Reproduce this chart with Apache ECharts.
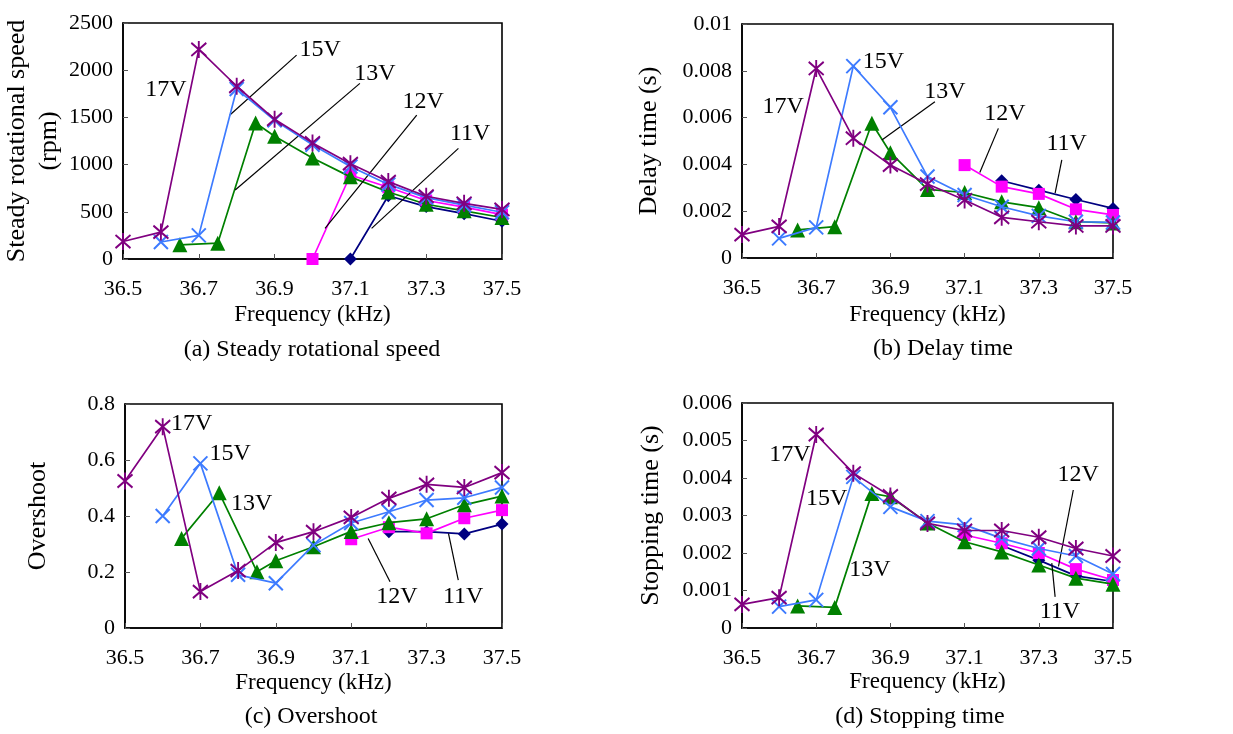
<!DOCTYPE html>
<html>
<head>
<meta charset="utf-8">
<script src="https://cdn.jsdelivr.net/npm/echarts@6/dist/echarts.min.js"></script>
<style>
  html, body { margin: 0; padding: 0; background: #fff; }
  #main { width: 1233px; height: 734px; }
</style>
</head>
<body>
<div id="main"></div>
<script>
// frequencies (kHz)
const f17 = [36.5, 36.6, 36.7, 36.8, 36.9, 37.0, 37.1, 37.2, 37.3, 37.4, 37.5];
const f15 = [36.6, 36.7, 36.8, 36.9, 37.0, 37.1, 37.2, 37.3, 37.4, 37.5];
const f13 = [36.65, 36.75, 36.85, 36.9, 37.0, 37.1, 37.2, 37.3, 37.4, 37.5];
const f12a = [37.0, 37.1, 37.2, 37.3, 37.4, 37.5];
const f11a = [37.1, 37.2, 37.3, 37.4, 37.5];
const f12 = [37.1, 37.2, 37.3, 37.4, 37.5];
const f11 = [37.2, 37.3, 37.4, 37.5];
const xTicks = [36.5, 36.7, 36.9, 37.1, 37.3, 37.5];

// (a) steady rotational speed (rpm)
const speed17 = [185, 285, 2220, 1830, 1480, 1230, 1010, 820, 665, 590, 525];
const speed15 = [180, 250, 1800, 1470, 1210, 980, 790, 650, 570, 495];
const speed13 = [150, 168, 1440, 1300, 1070, 870, 710, 580, 510, 440];
const speed12 = [0, 890, 760, 620, 550, 470];
const speed11 = [0, 670, 555, 480, 400];

// (b) delay time (s)
const delay17 = [0.001, 0.00135, 0.0081, 0.00512, 0.00397, 0.00316, 0.00248, 0.00174, 0.00155, 0.00137, 0.00137];
const delay15 = [0.00084, 0.00131, 0.0082, 0.00644, 0.00348, 0.00269, 0.00219, 0.0018, 0.00155, 0.00152];
const delay13 = [0.0012, 0.00134, 0.00576, 0.0045, 0.00293, 0.0028, 0.0024, 0.00215, 0.00155, 0.0015];
const delay12 = [0.00397, 0.00305, 0.00274, 0.00208, 0.00184];
const delay11 = [0.0033, 0.0029, 0.0025, 0.00212];

// (c) overshoot
const over17 = [0.525, 0.719, 0.13, 0.205, 0.305, 0.344, 0.395, 0.463, 0.513, 0.502, 0.555];
const over15 = [0.40, 0.588, 0.19, 0.16, 0.296, 0.375, 0.415, 0.457, 0.465, 0.502];
const over13 = [0.32, 0.483, 0.201, 0.24, 0.29, 0.345, 0.376, 0.39, 0.44, 0.471];
const over12 = [0.317, 0.36, 0.338, 0.392, 0.421];
const over11 = [0.344, 0.344, 0.336, 0.371];

// (d) stopping time (s)
const stop17 = [0.00063, 0.00081, 0.00516, 0.00413, 0.00352, 0.00279, 0.0026, 0.0026, 0.00242, 0.00212, 0.00192];
const stop15 = [0.00057, 0.00075, 0.00403, 0.00323, 0.00285, 0.00275, 0.00239, 0.00212, 0.00192, 0.00144];
const stop13 = [0.00059, 0.00055, 0.00359, 0.0035, 0.0028, 0.0023, 0.00203, 0.00168, 0.00133, 0.00117];
const stop12 = [0.00248, 0.00226, 0.002, 0.00157, 0.00128];
const stop11 = [0.0022, 0.00181, 0.00139, 0.00124];

// voltage labels [text, freq, value] and leader lines [f1, v1, f2, v2]
const notesA = [['17V', 36.613, 1790], ['15V', 37.02, 2213], ['13V', 37.165, 1959], ['12V', 37.292, 1666], ['11V', 37.416, 1324]];
const leadersA = [[36.958, 2160, 36.782, 1525], [37.125, 1860, 36.796, 731], [37.275, 1525, 37.033, 325], [37.385, 1172, 37.156, 325]];
const notesB = [['17V', 36.611, 0.00647], ['15V', 36.881, 0.00839], ['13V', 37.047, 0.00711], ['12V', 37.209, 0.00618], ['11V', 37.375, 0.0049]];
const leadersB = [[37.02, 0.00668, 36.877, 0.00504], [37.191, 0.00554, 37.141, 0.00365], [37.362, 0.00419, 37.344, 0.00277]];
const notesC = [['17V', 36.677, 0.731], ['15V', 36.779, 0.624], ['13V', 36.836, 0.445], ['12V', 37.221, 0.112], ['11V', 37.397, 0.112]];
const leadersC = [[37.203, 0.165, 37.145, 0.32], [37.384, 0.171, 37.358, 0.338]];
const notesD = [['17V', 36.629, 0.00461], ['15V', 36.728, 0.00346], ['13V', 36.845, 0.00155], ['12V', 37.406, 0.00408], ['11V', 37.357, 0.00043]];
const leadersD = [[37.393, 0.00368, 37.353, 0.00164], [37.344, 0.00083, 37.335, 0.00173]];

const FONT = '"Liberation Serif", "Times New Roman", serif';

const look = {
  '11V': { color: '#000080', symbol: 'diamond', size: 13 },
  '12V': { color: '#ff00ff', symbol: 'rect', size: 12 },
  '13V': { color: '#008000', symbol: 'triangle', size: 15 },
  '15V': { color: '#3d7bff', symbol: 'path://M0 0L10 10M10 0L0 10', size: 14 },
  '17V': { color: '#800080', symbol: 'path://M0 0L10 10M10 0L0 10M5 -1.5L5 11.5', size: [15, 17] }
};

const panels = [
  { sets: [['11V', f11a, speed11], ['12V', f12a, speed12], ['13V', f13, speed13], ['15V', f15, speed15], ['17V', f17, speed17]],
    notes: notesA, leaders: leadersA },
  { sets: [['11V', f11, delay11], ['12V', f12, delay12], ['13V', f13, delay13], ['15V', f15, delay15], ['17V', f17, delay17]],
    notes: notesB, leaders: leadersB },
  { sets: [['11V', f11, over11], ['12V', f12, over12], ['13V', f13, over13], ['15V', f15, over15], ['17V', f17, over17]],
    notes: notesC, leaders: leadersC },
  { sets: [['11V', f11, stop11], ['12V', f12, stop12], ['13V', f13, stop13], ['15V', f15, stop15], ['17V', f17, stop17]],
    notes: notesD, leaders: leadersD }
];

const grids = [
  { left: 123, right: 731, top: 23, bottom: 475 },
  { left: 742, right: 120, top: 24, bottom: 476 },
  { left: 125, right: 731, top: 404, bottom: 106 },
  { left: 742, right: 120, top: 403, bottom: 106 }
];

const yAxes = [
  { max: 2500, interval: 500, name: 'Steady rotational speed\n(rpm)', gap: 57, lh: 32 },
  { max: 0.01, interval: 0.002, name: 'Delay time (s)', gap: 80, lh: 26 },
  { max: 0.8, interval: 0.2, name: 'Overshoot', gap: 74, lh: 26 },
  { max: 0.006, interval: 0.001, name: 'Stopping time (s)', gap: 78, lh: 26 }
];
const xGaps = [44, 45, 43, 42];

const captions = [
  ['(a) Steady rotational speed', 312, 350],
  ['(b) Delay time', 943, 349],
  ['(c) Overshoot', 311, 717],
  ['(d) Stopping time', 920, 717]
];

const series = [];
panels.forEach((p, gi) => {
  p.sets.forEach(([name, xs, ys], k) => {
    const st = look[name];
    const s = {
      type: 'line',
      name: name,
      xAxisIndex: gi,
      yAxisIndex: gi,
      data: xs.map((x, i) => [x, ys[i]]),
      symbol: st.symbol,
      symbolSize: st.size,
      itemStyle: { color: st.color, borderColor: st.color, borderWidth: st.symbol.startsWith('path') ? 2 : 0 },
      lineStyle: { color: st.color, width: 1.7 },
      z: 2 + k,
      silent: true
    };
    if (name === '17V') {
      s.markPoint = {
        silent: true,
        symbol: 'rect',
        symbolSize: 1,
        itemStyle: { color: 'rgba(0,0,0,0)' },
        label: { show: true, position: 'inside', formatter: '{b}', color: '#000', fontSize: 24, fontFamily: FONT },
        data: p.notes.map(n => ({ name: n[0], coord: [n[1], n[2]] }))
      };
      s.markLine = {
        silent: true,
        symbol: ['none', 'none'],
        label: { show: false },
        lineStyle: { color: '#000', width: 1.2, type: 'solid' },
        data: p.leaders.map(l => [{ coord: [l[0], l[1]] }, { coord: [l[2], l[3]] }])
      };
    }
    series.push(s);
  });
});

const chart = echarts.init(document.getElementById('main'), null, { renderer: 'canvas' });
chart.setOption({
  animation: false,
  backgroundColor: '#fff',
  textStyle: { fontFamily: FONT },
  grid: grids.map(g => Object.assign({ show: true, borderColor: '#000', borderWidth: 1.6, backgroundColor: 'transparent' }, g)),
  xAxis: grids.map((g, i) => ({
    type: 'value',
    gridIndex: i,
    min: 36.5,
    max: 37.5,
    name: 'Frequency (kHz)',
    nameLocation: 'middle',
    nameGap: xGaps[i],
    nameTextStyle: { color: '#000', fontSize: 23, fontFamily: FONT },
    axisLine: { lineStyle: { color: '#000', width: 1.6 } },
    axisTick: { inside: true, length: 5, customValues: xTicks, lineStyle: { color: '#555' } },
    axisLabel: { customValues: xTicks, margin: 19, color: '#000', fontSize: 22, fontFamily: FONT, formatter: v => v.toFixed(1) },
    splitLine: { show: false }
  })),
  yAxis: yAxes.map((a, i) => ({
    type: 'value',
    gridIndex: i,
    min: 0,
    max: a.max,
    interval: a.interval,
    name: a.name,
    nameLocation: 'middle',
    nameRotate: 90,
    nameGap: a.gap,
    nameTextStyle: { color: '#000', fontSize: 26, lineHeight: a.lh, fontFamily: FONT },
    axisLine: { show: true, lineStyle: { color: '#000', width: 1.6 } },
    axisTick: { show: true, inside: true, length: 5, lineStyle: { color: '#555' } },
    axisLabel: { margin: 10, color: '#000', fontSize: 22, fontFamily: FONT, formatter: v => String(parseFloat(v.toPrecision(6))) },
    splitLine: { show: false }
  })),
  graphic: captions.map(c => ({
    type: 'text',
    x: c[1],
    y: c[2],
    style: { text: c[0], textAlign: 'center', textVerticalAlign: 'middle', font: '24px ' + FONT, fill: '#000' }
  })),
  series: series
});
</script>
</body>
</html>
